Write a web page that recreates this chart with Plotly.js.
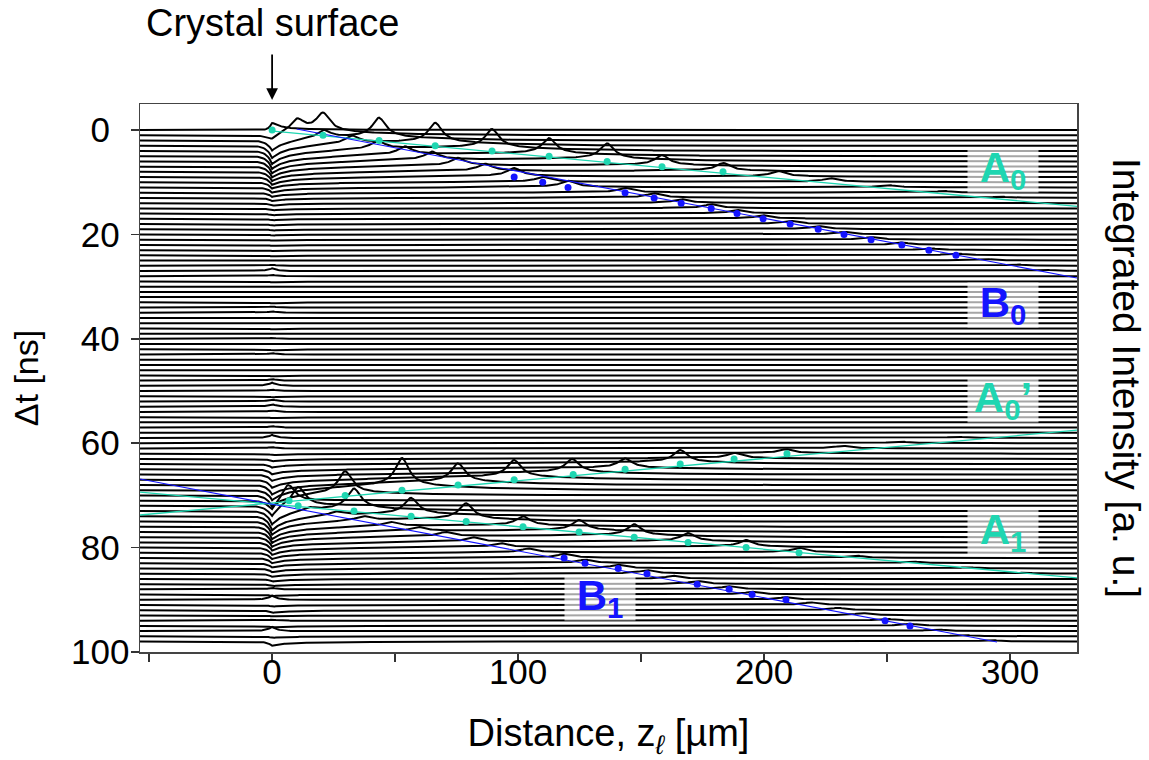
<!DOCTYPE html>
<html>
<head>
<meta charset="utf-8">
<script src="https://cdn.plot.ly/plotly-3.0.1.min.js"></script>
<style>html,body{margin:0;padding:0;background:#fff;}</style>
</head>
<body>
<div id="chart" style="width:1149px;height:760px;"></div>
<script>
// ---------------- DATA ----------------
// Delay of each recorded trace, Δt [ns]
const delays = [0,1,2,3,4,5,6,7,8,9,10,11,12,13,14,15,16,17,18,19,20,21,22,23,24,25,26,27,28,29,30,31,32,33,34,35,36,37,38,39,40,41,42,43,44,45,46,47,48,49,50,51,52,53,54,55,56,57,58,59,60,61,62,63,64,65,66,67,68,69,70,71,72,73,74,75,76,77,78,79,80,81,82,83,84,85,86,87,88,89,90,91,92,93,94,95,96,97,98];
// Feature at the crystal surface (z = 0) for each trace (+ = dip, − = bump), in Δt units
const surfaceFeature = [0,
 2.0,2.6,2.8,2.8,2.6,2.4,2.1,1.8,1.5,1.2,1.0,0.8,0.6,0.5,0.4,
 0.35,0.3,0.3,0.25,0.2,0.2,0.2,0.15,0.2,0.1,-0.2,-0.5,-0.3,0.2,0.1,
 0.1,0.1,0.2,-0.2,-0.3,0.1,0.1,0.2,0.1,-0.2,0.1,0.2,-0.3,0.1,0.1,
 0.1,0.2,-0.3,-0.6,-0.3,0.2,-0.4,-0.5,-0.3,0.2,0.1,
 -0.3,0.1,-0.6,-0.2,-0.3,0.3,0.5,0.7,1.0,
 1.3,1.7,2.1,2.5,2.9,3.2,3.4,3.3,3.1,2.8,2.5,2.2,1.9,1.6,1.4,1.2,1.0,0.8,0.7,
 0.6,0.5,0.4,-0.3,0.3,-0.8,0.3,0.5,0.2,-0.2,0.3,-0.8,0.3,0.8];

// Peaks of each mode: trace delay, peak position z [µm], peak height (Δt units)
const peakA0_t = [0,1,2,3,4,5,6,7,8,9,10,11,12,13];
const peakA0_z = [0,20.7,43.5,66.3,89.4,112.6,136.2,158.5,183.3,205.7,227,250,273,296];
const peakA0_h = [1.35,4.2,4.4,4.4,4.2,3.45,3.45,2.2,1.7,1.15,0.8,0.5,0.35,0.25];

const peakB0_t = [1,2,3,4,5,6,7,8,9,10,11,12,13,14,15,16,17,18,19,20,21,22,23,24,25,26,27];
const peakB0_z = [10.2,21,32.5,43,54,65,75.6,86.6,98.4,110,120.3,143.5,155.3,166.3,178.5,189,199.6,210.6,222,232.5,243.5,256,267,278,290,302,314];
const peakB0_h = [2.9,1.8,1.7,1.7,1.7,1.7,1.6,1.5,1.7,1.0,1.3,0.9,0.9,0.8,0.8,0.7,0.7,0.6,0.6,0.5,0.5,0.45,0.4,0.4,0.3,0.3,0.25];

const peakA0p_t = [71,70,69,68,67,66,65,64,63,62,61,60,59,58];
const peakA0p_z = [6.5,29.7,52.8,75.6,98.4,122,143.5,166,188,209,232,255,278,300];
const peakA0p_h = [4.5,5.0,6.3,4.2,3.8,3.0,2.1,2.7,1.15,0.86,0.5,0.35,0.25,0.2];

const peakA1_t = [72,73,74,75,76,77,78,79,80,81,82,83,84,85];
const peakA1_z = [10.6,33.3,56.5,78.9,102,124.8,147.2,169.1,192.7,214.2,237,260,283,306];
const peakA1_h = [4.6,4.6,3.6,3.5,2.0,2.3,2.5,1.8,1.45,0.95,0.5,0.35,0.25,0.2];

const peakB1_t = [72,73,74,75,76,77,78,79,80,81,82,83,84,85,86,87,88,89,90,91,92,93,94,95,96,97,98];
const peakB1_z = [3.6,14.7,26,37,48,59.3,70.5,81.6,92.8,104,118.7,127.2,140.7,152.4,163,172.8,185.8,195.1,208.9,219,230,240,249.2,259.3,270,281,292];
const peakB1_h = [0.6,0.8,0.9,0.9,0.9,0.9,0.9,0.9,0.8,0.8,0.8,0.7,0.7,0.7,0.6,0.6,0.6,0.55,0.5,0.5,0.45,0.45,0.4,0.4,0.35,0.3,0.3];

// Fitted peak positions (dots)
const dotA0_z = [0,20.7,43.5,66.3,89.4,112.6,136.2,158.5,183.3];
const dotA0_t = [0,1,2,3,4,5,6,7,8];
const dotB0_z = [98.4,110,120.3,143.5,155.3,166.3,178.5,189,199.6,210.6,222,232.5,243.5,256,267,278];
const dotB0_t = [9,10,11,12,13,14,15,16,17,18,19,20,21,22,23,24];
const dotA0p_z = [6.9,29.7,52.8,75.6,98.4,122.4,143.5,165.9,187.8,209.3];
const dotA0p_t = [71,70,69,68,67,66,65,64,63,62];
const dotA1_z = [10.6,33.3,56.5,78.9,102,124.8,147.2,169.1,192.7,214.2];
const dotA1_t = [72,73,74,75,76,77,78,79,80,81];
const dotB1_z = [118.7,127.2,140.7,152.4,172.8,185.8,195.1,208.9,249.2,259.3];
const dotB1_t = [82,83,84,85,87,88,89,90,94,95];

// Linear fits (end points)
const fitA0_z = [0.4, 327.2],   fitA0_t = [0.2, 14.6];
const fitB0_z = [10, 327.2],    fitB0_t = [-0.2, 28.35];
const fitA0p_z = [-53.7, 327.2], fitA0p_t = [73.75, 57.5];
const fitA1_z = [-53.7, 327.2],  fitA1_t = [69.35, 85.8];
const fitB1_z = [-53.7, 294.7],  fitB1_t = [66.86, 98.1];

const xTickVals = [-50,0,50,100,150,200,250,300];
const xTickText = ['','0','','100','','200','','300'];
const yTickVals = [0,20,40,60,80,100];
const yTickText = ['0\u2007','20\u2008','40\u2008','60\u2008','80\u2008','100'];

// ---------------- rendering ----------------
const TEAL = '#1fd6b1';
const BLUE = '#1414ff';
const FONT = 'Liberation Sans, Arial, Helvetica, sans-serif';

const zGrid = [];
for (let z = -54; z <= 328.001; z += 0.5) zGrid.push(+z.toFixed(2));

// Lorentzian-like cusp with a broad asymmetric skirt
function peakShape(dz, wl, wr) {
  const a = Math.abs(dz);
  const w = dz < 0 ? wl : wr;
  return 0.78 / (1 + (dz / 3.3) * (dz / 3.3)) + 0.22 * Math.exp(-a / w);
}
function surfaceGate(z) { return z >= 0 ? 1 : Math.exp(z / 1.5); }
function surfaceShape(z, s) {
  if (s < 0) return Math.exp(-Math.abs(z) / 2.5);
  if (z < 0) return Math.exp(z / 2);
  return 0.5 * Math.exp(-z / 4) + 0.5 * Math.exp(-z / 22);
}

const modes = [
  [peakA0_t, peakA0_z, peakA0_h, 60, 30],
  [peakB0_t, peakB0_z, peakB0_h, 25, 20],
  [peakA0p_t, peakA0p_z, peakA0p_h, 60, 30],
  [peakA1_t, peakA1_z, peakA1_h, 60, 30],
  [peakB1_t, peakB1_z, peakB1_h, 25, 20]
];

const traces = [];
delays.forEach((t0, i) => {
  const s = surfaceFeature[i];
  const pk = [];
  modes.forEach(m => {
    m[0].forEach((tt, j) => { if (tt === t0) pk.push([m[1][j], m[2][j], m[3], m[4]]); });
  });
  const ys = zGrid.map(z => {
    let y = t0 + s * surfaceShape(z, s);
    const g = surfaceGate(z);
    pk.forEach(p => { y -= p[1] * peakShape(z - p[0], p[2], p[3]) * g; });
    return y;
  });
  traces.push({
    type: 'scatter', mode: 'lines', x: zGrid, y: ys,
    line: {color: '#000', width: 2.0}, hoverinfo: 'skip', showlegend: false
  });
});

function fitLine(x, y, c, w) {
  return {type: 'scatter', mode: 'lines', x: x, y: y, line: {color: c, width: w}, hoverinfo: 'skip', showlegend: false};
}
function dots(x, y, c) {
  return {type: 'scatter', mode: 'markers', x: x, y: y, marker: {color: c, size: 7}, hoverinfo: 'skip', showlegend: false};
}
traces.push(fitLine(fitA0_z, fitA0_t, TEAL, 1.3));
traces.push(fitLine(fitB0_z, fitB0_t, BLUE, 1.1));
traces.push(fitLine(fitA0p_z, fitA0p_t, TEAL, 1.3));
traces.push(fitLine(fitA1_z, fitA1_t, TEAL, 1.3));
traces.push(fitLine(fitB1_z, fitB1_t, BLUE, 1.1));
traces.push(dots(dotA0_z, dotA0_t, TEAL));
traces.push(dots(dotB0_z, dotB0_t, BLUE));
traces.push(dots(dotA0p_z, dotA0p_t, TEAL));
traces.push(dots(dotA1_z, dotA1_t, TEAL));
traces.push(dots(dotB1_z, dotB1_t, BLUE));

function label(text, x, y, color) {
  return {
    text: '<b>' + text + '</b>', x: x, y: y, xref: 'x', yref: 'y',
    showarrow: false, font: {family: FONT, size: 42, color: color},
    bgcolor: 'rgba(255,255,255,0.65)', width: 70, height: 44, borderpad: 0,
    xanchor: 'center', yanchor: 'middle'
  };
}

const layout = {
  width: 1149, height: 760,
  margin: {l: 140, r: 72, t: 104, b: 108},
  paper_bgcolor: '#fff', plot_bgcolor: '#fff',
  font: {family: FONT, size: 34, color: '#000'},
  xaxis: {
    range: [-53.7, 327.2], tickvals: xTickVals, ticktext: xTickText,
    ticks: 'outside', ticklen: 8, tickwidth: 1.5, tickcolor: '#333',
    showline: true, mirror: true, linecolor: '#444', linewidth: 1.5,
    showgrid: false, zeroline: false, ticklabelstandoff: -20,
    tickfont: {family: FONT, size: 35},
    title: {text: 'Distance, z<sub><i>ℓ</i></sub> [µm]', font: {family: FONT, size: 38}, standoff: 34}
  },
  yaxis: {
    range: [100, -5], tickvals: yTickVals, ticktext: yTickText,
    ticks: 'outside', ticklen: 8, tickwidth: 1.5, tickcolor: '#333',
    showline: true, mirror: true, linecolor: '#444', linewidth: 1.5,
    showgrid: false, zeroline: false, ticklabelstandoff: -6,
    tickfont: {family: FONT, size: 35},
    title: {text: 'Δt [ns]', font: {family: FONT, size: 34}, standoff: 22}
  },
  annotations: [
    {text: 'Crystal surface', x: 0, xref: 'x', y: 1.0075, yref: 'paper',
     showarrow: true, arrowhead: 2, arrowsize: 1.3, arrowwidth: 1.8, arrowcolor: '#000',
     ax: 0, ay: -77, borderpad: 10, font: {family: FONT, size: 38, color: '#000'}},
    {text: 'Integrated Intensity [a. u.]', xref: 'paper', yref: 'paper', x: 1.0, xshift: 50, y: 0.5,
     textangle: 90, showarrow: false, font: {family: FONT, size: 39, color: '#000'}, xanchor: 'center', yanchor: 'middle'},
    label('A<sub>0</sub>', 297.2, 7.7, TEAL),
    label('B<sub>0</sub>', 297.2, 33.5, BLUE),
    label('A<sub>0</sub>’', 297.2, 51.7, TEAL),
    label('A<sub>1</sub>', 297.2, 77.0, TEAL),
    label('B<sub>1</sub>', 133.3, 89.7, BLUE)
  ]
};

Plotly.newPlot('chart', traces, layout, {staticPlot: true, displayModeBar: false});
</script>
</body>
</html>
